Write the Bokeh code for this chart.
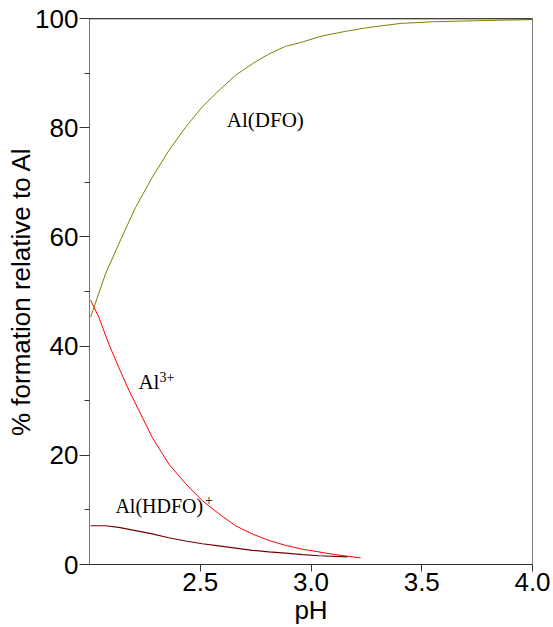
from bokeh.plotting import figure
from bokeh.models import Range1d, FixedTicker, Label, Span, PrintfTickFormatter
from bokeh.embed import file_html
from bokeh.resources import INLINE

# Al(DFO)
ph_dfo = [2.005, 2.072, 2.132, 2.208, 2.283, 2.358, 2.434, 2.509, 2.584, 2.659,
          2.735, 2.81, 2.885, 2.953, 3.05, 3.15, 3.25, 3.405, 3.55, 3.75, 4.0]
dfo = [45.3, 53.2, 58.7, 65.4, 70.9, 75.8, 80.1, 83.8, 86.8, 89.6,
       91.7, 93.5, 94.9, 95.6, 96.8, 97.6, 98.3, 99.1, 99.4, 99.6, 99.8]

# Al3+
ph_al = [2.005, 2.042, 2.087, 2.132, 2.178, 2.223, 2.283, 2.358, 2.434, 2.509,
         2.584, 2.659, 2.735, 2.81, 2.885, 2.961, 3.036, 3.111, 3.224]
al = [48.4, 45.3, 40.4, 36.1, 31.9, 28.2, 23.3, 18.4, 14.8, 11.7,
      9.3, 7.1, 5.6, 4.4, 3.5, 2.8, 2.3, 1.8, 1.2]

# Al(HDFO)+
ph_hdfo = [2.005, 2.072, 2.132, 2.208, 2.283, 2.358, 2.434, 2.509, 2.584, 2.659,
           2.735, 2.81, 2.885, 2.961, 3.036, 3.164]
hdfo = [7.1, 7.1, 6.8, 6.2, 5.6, 4.9, 4.3, 3.8, 3.4, 3.0,
        2.6, 2.3, 2.1, 1.8, 1.6, 1.4]

x_ticks = [2.5, 3.0, 3.5, 4.0]
y_ticks = [0, 20, 40, 60, 80, 100]
y_minor = [10, 30, 50, 70, 90]

p = figure(width=553, height=627, output_backend="svg", toolbar_location=None,
           x_range=Range1d(2.0, 4.0), y_range=Range1d(0, 100),
           min_border_left=89, min_border_top=18, min_border_right=21, min_border_bottom=63)
p.grid.visible = False
p.outline_line_color = "#808080"
p.background_fill_color = "white"
p.border_fill_color = "white"

tick_font = "Liberation Sans"
p.xaxis.ticker = FixedTicker(ticks=x_ticks)
p.xaxis.formatter = PrintfTickFormatter(format="%.1f")
p.yaxis.ticker = FixedTicker(ticks=y_ticks, minor_ticks=y_minor)
for ax in (p.xaxis[0], p.yaxis[0]):
    ax.major_label_text_font = tick_font
    ax.major_label_text_font_size = "26px"
    ax.major_label_text_color = "black"
    ax.axis_label_text_font = tick_font
    ax.axis_label_text_font_size = "26px"
    ax.axis_label_text_font_style = "normal"
    ax.axis_label_text_color = "black"
    ax.major_tick_in = 0
    ax.minor_tick_in = 0
    ax.major_label_standoff = 1

p.xaxis.axis_label = "pH"
p.xaxis.axis_line_color = "#333333"
p.xaxis.major_tick_line_color = "#333333"
p.xaxis.major_tick_out = 7
p.xaxis.minor_tick_line_color = None
p.xaxis.axis_label_standoff = 1

p.yaxis.axis_label = "% formation relative to Al"
p.yaxis.axis_line_color = "#777777"
p.yaxis.major_tick_line_color = "#333333"
p.yaxis.minor_tick_line_color = "#333333"
p.yaxis.major_tick_out = 10
p.yaxis.minor_tick_out = 5
p.yaxis.axis_label_standoff = -4

p.add_layout(Span(location=100, dimension="width", line_color="black", line_width=1.5))

p.line(ph_dfo, dfo, line_color="#808000", line_width=1)
p.line(ph_al, al, line_color="#ff0000", line_width=1)
p.line(ph_hdfo, hdfo, line_color="#7a0000", line_width=1.2)

serif = "Liberation Serif"
p.add_layout(Label(x=2.62, y=81.5, text="Al(DFO)", text_font=serif, text_font_size="21px",
                   text_color="black", text_baseline="alphabetic"))
p.add_layout(Label(x=2.221, y=33.4, text="Al", text_font=serif, text_font_size="21px",
                   text_color="black", text_baseline="alphabetic"))
p.add_layout(Label(x=2.316, y=34.4, text="3+", text_font=serif, text_font_size="14px",
                   text_color="black", text_baseline="alphabetic"))
p.add_layout(Label(x=2.117, y=10.8, text="Al(HDFO)", text_font=serif, text_font_size="20px",
                   text_color="black", text_baseline="alphabetic"))
p.add_layout(Label(x=2.522, y=11.9, text="+", text_font=serif, text_font_size="14px",
                   text_color="black", text_baseline="alphabetic"))

open("out.html", "w").write(file_html(p, INLINE))
